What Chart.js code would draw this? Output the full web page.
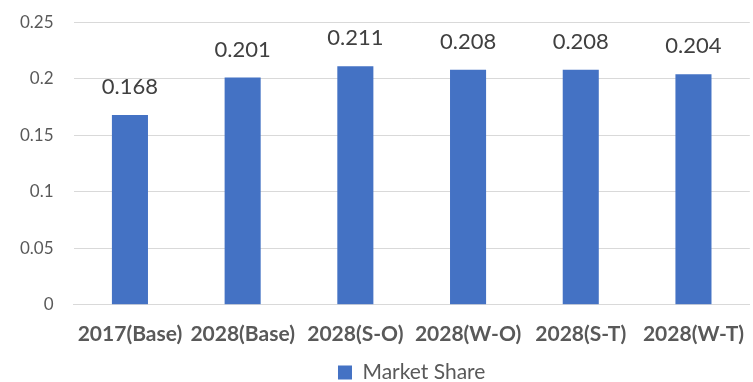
<!DOCTYPE html>
<html>
<head>
<meta charset="utf-8">
<script src="https://cdn.jsdelivr.net/npm/chart.js@4"></script>
<style>
  html, body { margin: 0; padding: 0; background: #fff; overflow: hidden; }
  #wrap { width: 753px; height: 390px; margin-top: -8px; }
</style>
</head>
<body>
<div id="wrap"><canvas id="chart"></canvas></div>
<script>
// Market share by scenario
const categories = ['2017(Base)', '2028(Base)', '2028(S-O)', '2028(W-O)', '2028(S-T)', '2028(W-T)'];
const marketShare = [0.168, 0.201, 0.211, 0.208, 0.208, 0.204];
const yTicks = [0, 0.05, 0.1, 0.15, 0.2, 0.25];

const FONT = 'Lato, "Open Sans", sans-serif';

// Value labels above each bar
const barLabels = {
    id: 'barLabels',
    afterDatasetsDraw(chart) {
        const ctx = chart.ctx;
        const meta = chart.getDatasetMeta(0);
        ctx.save();
        ctx.font = '22px ' + FONT;
        ctx.fillStyle = '#404040';
        ctx.textAlign = 'center';
        ctx.textBaseline = 'bottom';
        meta.data.forEach(function(bar, i) {
            ctx.fillText(marketShare[i].toFixed(3), bar.x, bar.y - 17);
        });
        ctx.restore();
    }
};

new Chart(document.getElementById('chart'), {
    type: 'bar',
    data: {
        labels: categories,
        datasets: [{
            label: 'Market Share',
            data: marketShare,
            backgroundColor: '#4472C4',
            barPercentage: 0.32,
            categoryPercentage: 1.0
        }]
    },
    options: {
        responsive: true,
        maintainAspectRatio: false,
        animation: false,
        layout: { padding: { top: 0, right: 0, bottom: -11, left: 0 } },
        plugins: {
            legend: {
                position: 'bottom',
                fullSize: false,
                labels: {
                    boxWidth: 14,
                    boxHeight: 14,
                    padding: 6,
                    color: '#595959',
                    font: { family: FONT, size: 21 }
                }
            },
            tooltip: { enabled: false }
        },
        scales: {
            x: {
                grid: { display: false },
                border: { color: '#d9d9d9', width: 1 },
                ticks: {
                    color: '#595959',
                    padding: 9,
                    maxRotation: 0,
                    autoSkip: false,
                    font: { family: FONT, size: 21, weight: 'bold' }
                }
            },
            y: {
                min: 0,
                max: 0.25,
                afterBuildTicks: function(axis) {
                    axis.ticks = yTicks.map(v => ({ value: v }));
                },
                grid: { color: '#d9d9d9', drawTicks: false },
                border: { display: false },
                ticks: {
                    color: '#595959',
                    padding: 20,
                    font: { family: FONT, size: 17 },
                    callback: v => String(Number(v.toFixed(2)))
                }
            }
        }
    },
    plugins: [barLabels]
});
</script>
</body>
</html>
